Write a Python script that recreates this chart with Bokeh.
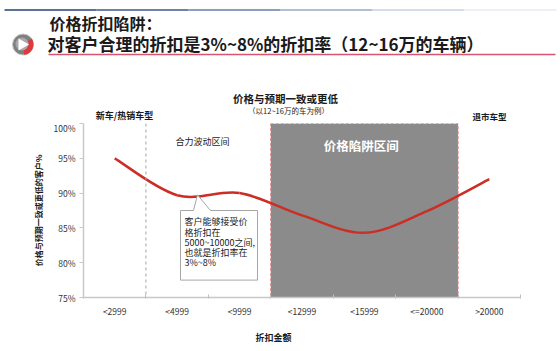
from bokeh.plotting import figure
from bokeh.layouts import column, row
from bokeh.models import Range1d, FixedTicker, Label, Span
from bokeh.embed import file_html
from bokeh.resources import INLINE

# ---------------- data ----------------
categories = ["<2999", "<4999", "<9999", "<12999", "<15999", "<=20000", ">20000"]
share_pct = [95.0, 89.7, 90.0, 86.8, 84.3, 87.4, 92.0]
y_ticks = [75, 80, 85, 90, 95, 100]
y_tick_labels = ["75%", "80%", "85%", "90%", "95%", "100%"]
trap_start, trap_end = 3, 6          # category boundaries of the price-trap zone
new_car_boundary = 1                 # dashed separator after first category

FONT = "Noto Sans CJK SC"
W = 560
HEAD_H = 121
FOOT_H = 28
CHART_H = 351 - HEAD_H - FOOT_H


def bare(height):
    f = figure(width=W, height=height, x_range=Range1d(0, W), y_range=Range1d(0, height),
               toolbar_location=None, output_backend="svg", min_border=0,
               x_axis_location=None, y_axis_location=None)
    f.grid.visible = False
    f.outline_line_color = None
    return f


# ---------------- header (page title + chart titles) ----------------
h = bare(HEAD_H)
Y = lambda ypx: HEAD_H - ypx   # pixel-from-top to data

cols = ["#24406e", "#3d5a88", "#6680a8", "#98a8c4", "#c8d0e0", "#e6eaf2"]
seg = 552 / len(cols)
for i, c in enumerate(cols):
    h.line([4 + i * seg, 4 + (i + 1) * seg], [Y(9.5), Y(9.5)], line_color=c, line_width=1.3)
h.line([48, 555], [Y(54), Y(54)], line_color="#d9546e", line_width=1.5)

# icon: grey disc, red crescent on the right, white play mark
h.circle(x=[22.5], y=[Y(44)], radius=10.5, fill_color="#7f7f7f", line_color="#c8c8c8", line_width=1)
h.wedge(x=[22.5], y=[Y(44)], radius=10.5, start_angle=-1.45, end_angle=0.6,
        fill_color="#e0383c", line_color=None)
h.circle(x=[21.5], y=[Y(43.5)], radius=6.5, fill_color="#a9a9a9", line_color=None)
h.patch([18, 18, 28.5], [Y(38), Y(50), Y(44)], fill_color="white", line_color=None)


def hlab(x, ypx, t, size, bold=True, align="left", color="#1a1a1a"):
    h.add_layout(Label(x=x, y=Y(ypx), text=t, text_font=FONT, text_font_size=size,
                       text_font_style="bold" if bold else "normal", text_color=color,
                       text_align=align, text_baseline="middle"))


hlab(49, 22.5, "价格折扣陷阱：", "16px")
hlab(47, 43, "对客户合理的折扣是3%~8%的折扣率（12~16万的车辆）", "17px")
hlab(285, 98, "价格与预期一致或更低", "10.5px", align="center")
hlab(288, 109.5, "（以12~16万的车为例）", "7.5px", bold=False, align="center")
hlab(124, 115, "新车/热销车型", "9px", align="center")
hlab(489, 115, "退市车型", "8.5px", align="center")

# ---------------- chart ----------------
p = figure(width=W, height=CHART_H, x_range=Range1d(0, len(categories)), y_range=Range1d(75, 100),
           toolbar_location=None, output_backend="svg",
           min_border_left=83, min_border_right=40, min_border_top=2,
           min_border_bottom=CHART_H - 6 - 170)
p.grid.visible = False
p.outline_line_color = None

p.quad(left=[trap_start], right=[trap_end], bottom=[75], top=[100], fill_color="#8b8b8b",
       line_color="#e47a7a", line_dash="3 2", line_width=1)
p.add_layout(Span(location=new_car_boundary, dimension="height", line_color="#a6a6a6",
                  line_dash="3 3", line_width=1))

# smoothed curve (Bezier segments through the data points)
xs = [i + 0.5 for i in range(len(categories))]
ys = share_pct
n = len(xs)
x0, y0, x1, y1, cx0, cy0, cx1, cy1 = ([] for _ in range(8))
for i in range(n - 1):
    xa, ya = xs[max(i - 1, 0)], ys[max(i - 1, 0)]
    xb, yb = xs[i], ys[i]
    xc, yc = xs[i + 1], ys[i + 1]
    xd, yd = xs[min(i + 2, n - 1)], ys[min(i + 2, n - 1)]
    x0.append(xb); y0.append(yb); x1.append(xc); y1.append(yc)
    cx0.append(xb + (xc - xa) / 6); cy0.append(yb + (yc - ya) / 6)
    cx1.append(xc - (xd - xb) / 6); cy1.append(yc - (yd - yb) / 6)
p.bezier(x0=x0, y0=y0, x1=x1, y1=y1, cx0=cx0, cy0=cy0, cx1=cx1, cy1=cy1,
         line_color="#cc2e26", line_width=2.5)

# callout box with pointer
bx = [1.554, 1.762, 1.826, 2.034, 2.787, 2.787, 1.554]
by = [87.5, 87.5, 89.75, 87.5, 87.5, 77.5, 77.5]
p.patch(bx, by, fill_color="white", line_color="#a6a6a6", line_width=1)
callout = ["客户能够接受价", "格折扣在", "5000~10000之间,", "也就是折扣率在", "3%~8%"]
for k, t in enumerate(callout):
    p.add_layout(Label(x=1.618, y=85.88 - k * 1.47, text=t, text_font=FONT, text_font_size="9px",
                       text_color="#1a1a1a", text_baseline="middle"))


def lab(x, y, t, size="9px", bold=True, color="#1a1a1a"):
    p.add_layout(Label(x=x, y=y, text=t, text_font=FONT, text_font_size=size,
                       text_font_style="bold" if bold else "normal", text_color=color,
                       text_align="center", text_baseline="middle"))


lab(1.906, 97.35, "合力波动区间", size="9px", bold=False)
lab(4.45, 96.91, "价格陷阱区间", size="12.5px", color="white")

# axes
p.xaxis.ticker = FixedTicker(ticks=xs, minor_ticks=list(range(len(categories) + 1)))
p.xaxis.major_label_overrides = {x: c for x, c in zip(xs, categories)}
p.xaxis.major_tick_line_color = None
p.xaxis.major_tick_out = 0
p.xaxis.major_tick_in = 0
p.xaxis.minor_tick_in = 3
p.xaxis.minor_tick_out = 1
p.xaxis.minor_tick_line_color = "#bfbfbf"
p.xaxis.axis_line_color = "#c8c8c8"
p.xaxis.axis_line_width = 1.5
p.xaxis.major_label_text_font = FONT
p.xaxis.major_label_text_font_size = "8.5px"
p.xaxis.major_label_text_color = "#333333"
p.xaxis.major_label_standoff = 6

p.yaxis.ticker = FixedTicker(ticks=y_ticks)
p.yaxis.major_label_overrides = {v: s for v, s in zip(y_ticks, y_tick_labels)}
p.yaxis.major_tick_out = 4
p.yaxis.major_tick_in = 0
p.yaxis.minor_tick_line_color = None
p.yaxis.major_tick_line_color = "#c8c8c8"
p.yaxis.axis_line_color = "#c8c8c8"
p.yaxis.axis_line_width = 1.5
p.yaxis.major_label_text_font = FONT
p.yaxis.major_label_text_font_size = "8.5px"
p.yaxis.major_label_text_color = "#333333"
p.yaxis.major_label_standoff = 4
p.yaxis.axis_label = "价格与预期一致或更低的客户%"
p.yaxis.axis_label_text_font = FONT
p.yaxis.axis_label_text_font_size = "8px"
p.yaxis.axis_label_text_font_style = "bold"
p.yaxis.axis_label_text_color = "#1a1a1a"
p.yaxis.axis_label_standoff = 7

# ---------------- footer (x-axis title) ----------------
f = bare(FOOT_H)
f.add_layout(Label(x=273, y=FOOT_H - 14, text="折扣金额", text_font=FONT, text_font_size="9px",
                   text_font_style="bold", text_color="#1a1a1a", text_align="center",
                   text_baseline="middle"))

layout = column(row(h), row(p), row(f), spacing=0)
open("out.html", "w").write(file_html(layout, INLINE))
